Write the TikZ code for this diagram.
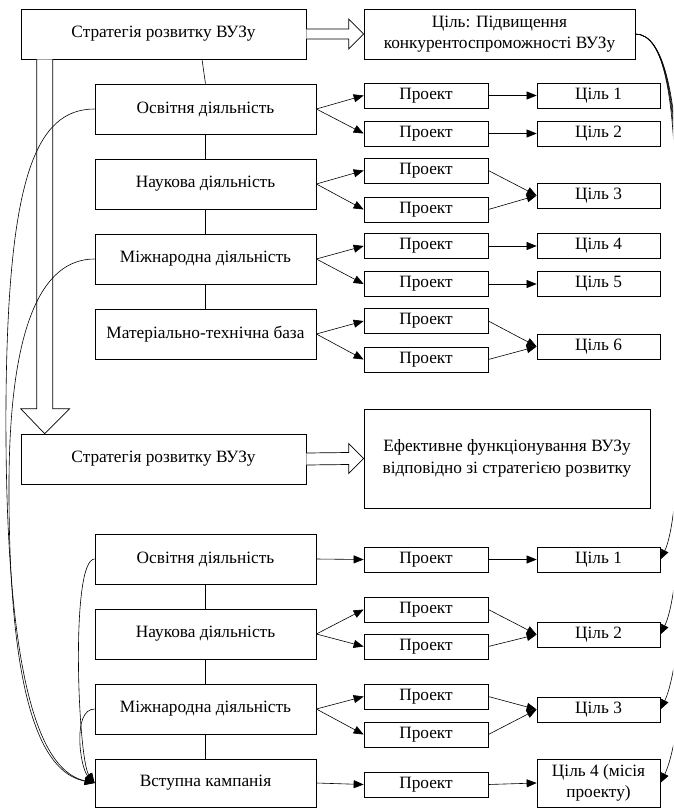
\documentclass[tikz,border=0pt]{standalone}
\usepackage{fontspec}
\setmainfont{Liberation Serif}
\usetikzlibrary{arrows.meta,calc}
\newcommand{\fsz}{\fontsize{17.3}{21.5}\selectfont}
\begin{document}
\begin{tikzpicture}[x=1pt,y=-1pt,
  box/.style={draw, line width=0.7pt, fill=white, inner sep=0pt, align=center, font=\fsz},
  big/.style={box, minimum width=285, minimum height=50},
  act/.style={box, minimum width=221, minimum height=50},
  prj/.style={box, minimum width=124, minimum height=25},
  tgt/.style={box, minimum width=123, minimum height=25},
  arr/.style={-{Triangle[length=10pt,width=8pt]}, line width=0.6pt},
  conn/.style={line width=0.6pt},
  hollow/.style={draw, fill=white, line width=0.7pt, line join=miter}]
\useasboundingbox (0,0) rectangle (673,808);
\clip (0,0) rectangle (673,808);

% ---------- top section ----------
\node[big] (s1) at (163.5,34) {Стратегія розвитку ВУЗу};
\node[box, minimum width=271, minimum height=50] (goal) at (499.5,34) {Ціль: Підвищення\\конкурентоспроможності ВУЗу};

\node[act] (a1) at (205.5,109) {Освітня діяльність};
\node[act] (a2) at (205.5,184) {Наукова діяльність};
\node[act] (a3) at (205.5,259) {Міжнародна діяльність};
\node[act] (a4) at (205.5,334) {Матеріально-технічна база};

\node[prj] (p11) at (426,95.5) {Проект};
\node[prj] (p12) at (426,133.5) {Проект};
\node[prj] (p21) at (426,170.5) {Проект};
\node[prj] (p22) at (426,209.5) {Проект};
\node[prj] (p31) at (426,246) {Проект};
\node[prj] (p32) at (426,284) {Проект};
\node[prj] (p41) at (426,321) {Проект};
\node[prj] (p42) at (426,359.5) {Проект};

\node[tgt] (c1) at (598.5,95.5) {Ціль 1};
\node[tgt] (c2) at (598.5,133.5) {Ціль 2};
\node[tgt] (c3) at (598.5,195.5) {Ціль 3};
\node[tgt] (c4) at (598.5,246) {Ціль 4};
\node[tgt] (c5) at (598.5,284) {Ціль 5};
\node[tgt] (c6) at (598.5,346.5) {Ціль 6};

% ---------- bottom section ----------
\node[big] (s2) at (163.5,459) {Стратегія розвитку ВУЗу};
\node[box, minimum width=286, minimum height=99] (eff) at (507,458.5) {Ефективне функціонування ВУЗу\\відповідно зі стратегією розвитку};

\node[act] (b1) at (205.5,559) {Освітня діяльність};
\node[act] (b2) at (205.5,634) {Наукова діяльність};
\node[act] (b3) at (205.5,709) {Міжнародна діяльність};
\node[act, minimum height=48] (b4) at (205.5,783) {Вступна кампанія};

\node[prj] (q1) at (426,559.5) {Проект};
\node[prj] (q21) at (426,609.5) {Проект};
\node[prj] (q22) at (426,646.5) {Проект};
\node[prj] (q31) at (426,696.5) {Проект};
\node[prj] (q32) at (426,734.5) {Проект};
\node[prj] (q4) at (426,784.5) {Проект};

\node[tgt] (d1) at (598.5,559.5) {Ціль 1};
\node[tgt] (d2) at (598.5,634.5) {Ціль 2};
\node[tgt] (d3) at (598.5,709.5) {Ціль 3};
\node[tgt, minimum height=48] (d4) at (598.5,783) {Ціль 4 (місія\\проекту)};

% ---------- hollow block arrows ----------
\draw[hollow] ($(s1.east)+(0,-5)$) -- ($(goal.west)+(-15,-5)$) -- ($(goal.west)+(-15,-15)$)
  -- (goal.west) -- ($(goal.west)+(-15,15)$) -- ($(goal.west)+(-15,5)$) -- ($(s1.east)+(0,5)$);
\draw[hollow] ($(s2.east)+(0,-6)$) -- ($(eff.west)+(-15,-6)$) -- ($(eff.west)+(-15,-15)$)
  -- (eff.west) -- ($(eff.west)+(-15,15)$) -- ($(eff.west)+(-15,6)$) -- ($(s2.east)+(0,6)$);
\draw[hollow] ($(s1.south west)+(16,0)$) -- ($(s2.north west)+(16,-25)$) -- ($(s2.north west)+(0,-25)$)
  -- ($(s2.north west)+(24,0)$) -- ($(s2.north west)+(49,-25)$) -- ($(s2.north west)+(32,-25)$)
  -- ($(s1.south west)+(32,0)$);

% ---------- vertical links ----------
\draw[conn] ($(s1.south)+(38.5,0)$) -- (a1.north);
\draw[conn] (a1.south) -- (a2.north);
\draw[conn] (a2.south) -- (a3.north);
\draw[conn] (a3.south) -- (a4.north);
\draw[conn] (b1.south) -- (b2.north);
\draw[conn] (b2.south) -- (b3.north);
\draw[conn] (b3.south) -- (b4.north);

% ---------- activity -> project ----------
\draw[arr] (a1.east) -- (p11.west);
\draw[arr] (a1.east) -- (p12.west);
\draw[arr] (a2.east) -- (p21.west);
\draw[arr] (a2.east) -- (p22.west);
\draw[arr] (a3.east) -- (p31.west);
\draw[arr] (a3.east) -- (p32.west);
\draw[arr] (a4.east) -- (p41.west);
\draw[arr] (a4.east) -- (p42.west);
\draw[arr] (b1.east) -- (q1.west);
\draw[arr] (b2.east) -- (q21.west);
\draw[arr] (b2.east) -- (q22.west);
\draw[arr] (b3.east) -- (q31.west);
\draw[arr] (b3.east) -- (q32.west);
\draw[arr] (b4.east) -- (q4.west);

% ---------- project -> goal ----------
\draw[arr] (p11.east) -- (c1.west);
\draw[arr] (p12.east) -- (c2.west);
\draw[arr] (p21.east) -- (c3.west);
\draw[arr] (p22.east) -- (c3.west);
\draw[arr] (p31.east) -- (c4.west);
\draw[arr] (p32.east) -- (c5.west);
\draw[arr] (p41.east) -- (c6.west);
\draw[arr] (p42.east) -- (c6.west);
\draw[arr] (q1.east) -- (d1.west);
\draw[arr] (q21.east) -- (d2.west);
\draw[arr] (q22.east) -- (d2.west);
\draw[arr] (q31.east) -- (d3.west);
\draw[arr] (q32.east) -- (d3.west);
\draw[arr] (q4.east) -- (d4.west);

% ---------- left curved links ----------
\draw[arr] (a1.west) .. controls (35,109) and (8,180) .. (6,400) .. controls (4,700) and (45,772) .. (b4.west);
\draw[arr] (a3.west) .. controls (40,259) and (10,330) .. (9,480) .. controls (8,720) and (48,774) .. (b4.west);
\draw[arr] (b1.west) .. controls (70,559) and (78,760) .. (b4.west);
\draw[arr] (b3.west) .. controls (72,709) and (80,768) .. (b4.west);

% ---------- right curved links ----------
\foreach \t/\x in {d1/676,d2/677,d3/678,d4/679}{
  \draw[arr] (goal.east) .. controls (665,34) and ($(\x,100)+(-2,0)$) .. (\x,200)
    -- ($(\t.east)+(\x-660,-100)$) .. controls ($(\t.east)+(\x-660,-55)$) and ($(\t.east)+(10,-20)$) .. (\t.east);
}
\end{tikzpicture}
\end{document}
